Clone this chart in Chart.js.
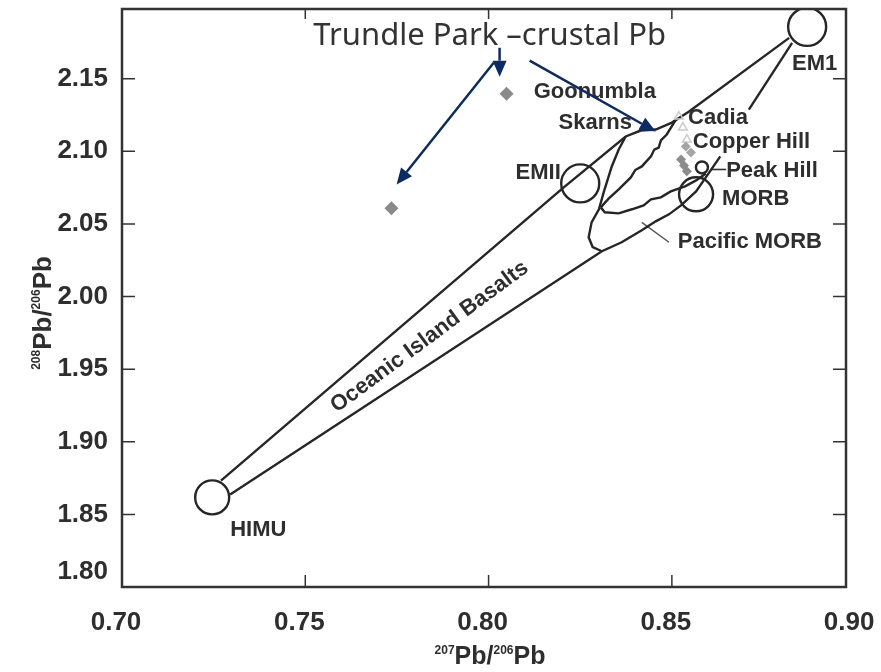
<!DOCTYPE html>
<html>
<head>
<meta charset="utf-8">
<script src="https://cdn.jsdelivr.net/npm/chart.js@4.4.1/dist/chart.umd.min.js"></script>
<style>
  html, body { margin: 0; padding: 0; background: #ffffff; }
  #wrap { width: 881px; height: 672px; }
</style>
</head>
<body>
<div id="wrap"><canvas id="pbChart" width="881" height="672"></canvas></div>
<script>
/* ===================================
   Pb isotope plot  208Pb/206Pb vs 207Pb/206Pb
   =================================== */

// axis ticks
const xTickValues = [0.70, 0.75, 0.80, 0.85, 0.90];
const yTickValues = [1.80, 1.85, 1.90, 1.95, 2.00, 2.05, 2.10, 2.15];

// Oceanic Island Basalts field - upper edge (HIMU -> EMII -> EM1)
const oibUpperX = [0.7270, 0.8205, 0.8374, 0.8415, 0.8456, 0.8500, 0.8546, 0.8820];
const oibUpperY = [1.8733, 2.0752, 2.1102, 2.1143, 2.1150, 2.1198, 2.1273, 2.1781];

// lower edge (HIMU -> Pacific MORB -> MORB -> Peak Hill)
const oibLowerX = [0.7295, 0.8309, 0.8363, 0.8418, 0.8456, 0.8492, 0.8525, 0.8566, 0.8602, 0.8632];
const oibLowerY = [1.8637, 2.0312, 2.0374, 2.0457, 2.0518, 2.0566, 2.0628, 2.0724, 2.0855, 2.0965];

// link up to EM1 (the part behind the labels is hidden)
const em1LinkX = [0.8710, 0.8828];
const em1LinkY = [2.1287, 2.1747];

// left edge of Pacific MORB / inner field
const innerLeftX = [0.8309, 0.8284, 0.8273, 0.8281, 0.8301, 0.8314, 0.8336, 0.8355, 0.8374];
const innerLeftY = [2.0312, 2.0340, 2.0408, 2.0511, 2.0601, 2.0717, 2.0896, 2.1013, 2.1102];

// jagged inner field, upper-left side
const jagUpperX = [0.8511, 0.8486, 0.8470, 0.8464, 0.8452, 0.8443, 0.8418, 0.8400, 0.8388, 0.8355, 0.8328, 0.8306];
const jagUpperY = [2.1219, 2.1116, 2.1075, 2.1026, 2.1012, 2.0965, 2.0896, 2.0871, 2.0820, 2.0738, 2.0676, 2.0614];

// jagged inner field, lower side
const jagLowerX = [0.8306, 0.8317, 0.8355, 0.8391, 0.8423, 0.8443, 0.8470, 0.8497, 0.8536, 0.8566, 0.8593];
const jagLowerY = [2.0614, 2.0580, 2.0573, 2.0601, 2.0628, 2.0669, 2.0683, 2.0724, 2.0759, 2.0800, 2.0848];

// label leader lines
const pacLeaderX = [0.8418, 0.8492];
const pacLeaderY = [2.0511, 2.0374];
const peakLeaderX = [0.8609, 0.8648];
const peakLeaderY = [2.0875, 2.0875];

// mantle end-members: EM1, EMII, MORB, HIMU, Peak Hill
const circleX = [0.8869, 0.8250, 0.8566, 0.7246, 0.8582];
const circleY = [2.1857, 2.0779, 2.0704, 1.8617, 2.0889];
const circleR = [19, 19, 17, 17, 6];

// ore samples
const trundleX = [0.7735, 0.8049];
const trundleY = [2.0608, 2.1397];
const cadiaX = [0.8519, 0.8530, 0.8541];
const cadiaY = [2.1239, 2.1164, 2.1081];
const copperHillX = [0.8538, 0.8552];
const copperHillY = [2.1033, 2.0992];
const peakHillX = [0.8525, 0.8533, 0.8541];
const peakHillY = [2.0944, 2.0903, 2.0862];

// text labels
const labelText = ['Goonumbla', 'Skarns', 'Cadia', 'Copper Hill', 'Peak Hill', 'MORB', 'Pacific MORB', 'EM1', 'EMII', 'HIMU'];
const labelX = [0.8123, 0.8191, 0.8544, 0.8557, 0.8648, 0.8637, 0.8516, 0.8828, 0.8197, 0.7295];
const labelY = [2.1411, 2.1198, 2.1232, 2.1068, 2.0862, 2.0669, 2.0374, 2.1603, 2.0848, 1.8390];
const labelAlign = ['left', 'left', 'left', 'left', 'left', 'left', 'left', 'left', 'right', 'left'];

// rotated field name
const oibText = 'Oceanic Island Basalts';
const oibTextX = 0.7839;
const oibTextY = 1.9722;
const oibTextAngle = -36.5;

// callout
const calloutText = 'Trundle Park \u2013crustal Pb';
const calloutX = 0.7522;
const calloutY = 2.1733;
const arrowFromX = [0.8014, 0.8030, 0.8112];
const arrowFromY = [2.1610, 2.1713, 2.1624];
const arrowToX = [0.7749, 0.8030, 0.8456];
const arrowToY = [2.0772, 2.1514, 2.1136];

const zip = (xs, ys) => xs.map((v, i) => ({ x: v, y: ys[i] }));

const INK = '#262626';
const LABEL_FONT = 'bold 22px "Liberation Sans", Arial, sans-serif';

function outline(data, color, width) {
    return {
        type: 'scatter',
        data: data,
        showLine: true,
        fill: false,
        tension: 0,
        borderColor: color || INK,
        borderWidth: width || 2.4,
        pointRadius: 0
    };
}

function arrow(ctx, x1, y1, x2, y2) {
    const ang = Math.atan2(y2 - y1, x2 - x1);
    const head = 16;
    const bx = x2 - head * Math.cos(ang);
    const by = y2 - head * Math.sin(ang);
    ctx.beginPath();
    ctx.moveTo(x1, y1);
    ctx.lineTo(bx, by);
    ctx.stroke();
    ctx.beginPath();
    ctx.moveTo(x2, y2);
    ctx.lineTo(bx + 7 * Math.sin(ang), by - 7 * Math.cos(ang));
    ctx.lineTo(bx - 7 * Math.sin(ang), by + 7 * Math.cos(ang));
    ctx.closePath();
    ctx.fill();
}

// "207Pb/206Pb" style text with superscript masses, centred on 0
function ratioText(ctx, topMass, botMass, bigSize, smallSize) {
    const big = 'bold ' + bigSize + 'px "Liberation Sans", Arial, sans-serif';
    const small = 'bold ' + smallSize + 'px "Liberation Sans", Arial, sans-serif';
    const parts = [[topMass, small], ['Pb/', big], [botMass, small], ['Pb', big]];
    let total = 0;
    parts.forEach(p => { ctx.font = p[1]; total += ctx.measureText(p[0]).width; });
    let cx = -total / 2;
    ctx.textAlign = 'left';
    ctx.textBaseline = 'alphabetic';
    parts.forEach(p => {
        ctx.font = p[1];
        const raise = p[1] === small ? -bigSize * 0.42 : 0;
        ctx.fillText(p[0], cx, raise);
        cx += ctx.measureText(p[0]).width;
    });
}

// keep the plot box fixed: no extra room for edge tick labels
function fixPadding(s) {
    s.paddingTop = 0;
    s.paddingBottom = 0;
    s.paddingLeft = 0;
    s.paddingRight = 0;
}

const framePlugin = {
    id: 'framePlugin',
    afterDatasetsDraw(chart) {
        const { ctx, chartArea: a, scales: { x, y } } = chart;
        ctx.save();

        // field name along the OIB band
        ctx.fillStyle = '#2e2e2e';
        ctx.font = LABEL_FONT;
        ctx.translate(x.getPixelForValue(oibTextX), y.getPixelForValue(oibTextY));
        ctx.rotate(oibTextAngle * Math.PI / 180);
        ctx.textAlign = 'center';
        ctx.textBaseline = 'middle';
        ctx.fillText(oibText, 0, 0);
        ctx.setTransform(1, 0, 0, 1, 0, 0);

        // point labels
        ctx.textBaseline = 'middle';
        labelText.forEach((t, i) => {
            ctx.textAlign = labelAlign[i];
            ctx.fillText(t, x.getPixelForValue(labelX[i]), y.getPixelForValue(labelY[i]));
        });

        // callout + arrows
        ctx.fillStyle = '#333333';
        ctx.font = '31px "Noto Sans", "Open Sans", sans-serif';
        ctx.textAlign = 'left';
        ctx.textBaseline = 'alphabetic';
        ctx.fillText(calloutText, x.getPixelForValue(calloutX), y.getPixelForValue(calloutY));

        ctx.strokeStyle = '#0c2a63';
        ctx.fillStyle = '#0c2a63';
        ctx.lineWidth = 2.5;
        arrowFromX.forEach((v, i) => {
            arrow(ctx,
                x.getPixelForValue(v), y.getPixelForValue(arrowFromY[i]),
                x.getPixelForValue(arrowToX[i]), y.getPixelForValue(arrowToY[i]));
        });

        // frame with inward ticks on all sides
        ctx.strokeStyle = '#333333';
        ctx.lineWidth = 2.5;
        ctx.strokeRect(a.left, a.top, a.right - a.left, a.bottom - a.top);
        ctx.lineWidth = 1.5;
        ctx.beginPath();
        yTickValues.forEach(v => {
            const py = y.getPixelForValue(v);
            if (py >= a.bottom - 2 || py <= a.top + 2) return;
            ctx.moveTo(a.left, py); ctx.lineTo(a.left + 13, py);
            ctx.moveTo(a.right, py); ctx.lineTo(a.right - 13, py);
        });
        xTickValues.forEach(v => {
            const px = x.getPixelForValue(v);
            if (px <= a.left + 2 || px >= a.right - 2) return;
            ctx.moveTo(px, a.bottom); ctx.lineTo(px, a.bottom - 12);
            ctx.moveTo(px, a.top); ctx.lineTo(px, a.top + 10);
        });
        ctx.stroke();

        // axis titles
        ctx.fillStyle = '#2e2e2e';
        ctx.translate(490, 664);
        ratioText(ctx, '207', '206', 25, 12);
        ctx.setTransform(1, 0, 0, 1, 0, 0);
        ctx.translate(51, 313);
        ctx.rotate(-Math.PI / 2);
        ratioText(ctx, '208', '206', 26, 12);
        ctx.restore();
    }
};

new Chart(document.getElementById('pbChart'), {
    type: 'scatter',
    data: {
        datasets: [
            {
                data: zip(trundleX, trundleY),
                pointStyle: 'rectRot', pointRadius: 7,
                backgroundColor: '#8a8a8a', borderWidth: 0
            },
            {
                data: zip(copperHillX, copperHillY),
                pointStyle: 'rectRot', pointRadius: 5,
                backgroundColor: '#a6a6a6', borderWidth: 0
            },
            {
                data: zip(peakHillX, peakHillY),
                pointStyle: 'rectRot', pointRadius: 5,
                backgroundColor: '#8c8c8c', borderWidth: 0
            },
            {
                data: zip(cadiaX, cadiaY),
                pointStyle: 'triangle', pointRadius: 5,
                backgroundColor: 'rgba(0,0,0,0)', borderColor: '#cccccc', borderWidth: 1.5
            },
            {
                data: zip(circleX, circleY),
                pointStyle: 'circle', pointRadius: circleR,
                backgroundColor: 'rgba(0,0,0,0)', borderColor: INK, borderWidth: 2.4
            },
            outline(zip(oibUpperX, oibUpperY)),
            outline(zip(oibLowerX, oibLowerY)),
            outline(zip(em1LinkX, em1LinkY)),
            outline(zip(innerLeftX, innerLeftY)),
            outline(zip(jagUpperX, jagUpperY)),
            outline(zip(jagLowerX, jagLowerY)),
            outline(zip(pacLeaderX, pacLeaderY), '#555555', 1.4),
            outline(zip(peakLeaderX, peakLeaderY), '#333333', 1.6)
        ]
    },
    options: {
        responsive: false,
        animation: false,
        events: [],
        layout: { autoPadding: false, padding: { top: 9, right: 35, bottom: 0, left: 0 } },
        plugins: {
            legend: { display: false },
            tooltip: { enabled: false }
        },
        scales: {
            x: {
                type: 'linear',
                min: 0.70,
                max: 0.8975,
                grid: { display: false, drawTicks: false },
                border: { display: false },
                afterBuildTicks: s => { s.ticks = xTickValues.map(v => ({ value: v })); },
                afterFit: s => { s.height = 85; fixPadding(s); },
                ticks: {
                    padding: 20,
                    labelOffset: -6,
                    color: '#2e2e2e',
                    font: { family: '"Liberation Sans", Arial, sans-serif', size: 26, weight: 'bold' },
                    callback: v => v.toFixed(2)
                }
            },
            y: {
                type: 'linear',
                min: 1.80,
                max: 2.198,
                grid: { display: false, drawTicks: false },
                border: { display: false },
                afterBuildTicks: s => { s.ticks = yTickValues.map(v => ({ value: v })); },
                afterFit: s => { s.width = 122; fixPadding(s); },
                ticks: {
                    padding: 14,
                    color: '#2e2e2e',
                    font: { family: '"Liberation Sans", Arial, sans-serif', size: 26, weight: 'bold' },
                    // bottom label sits a little above the axis line
                    callback: v => v === 1.80 ? [v.toFixed(2), ''] : v.toFixed(2)
                }
            }
        }
    },
    plugins: [framePlugin]
});
</script>
</body>
</html>
